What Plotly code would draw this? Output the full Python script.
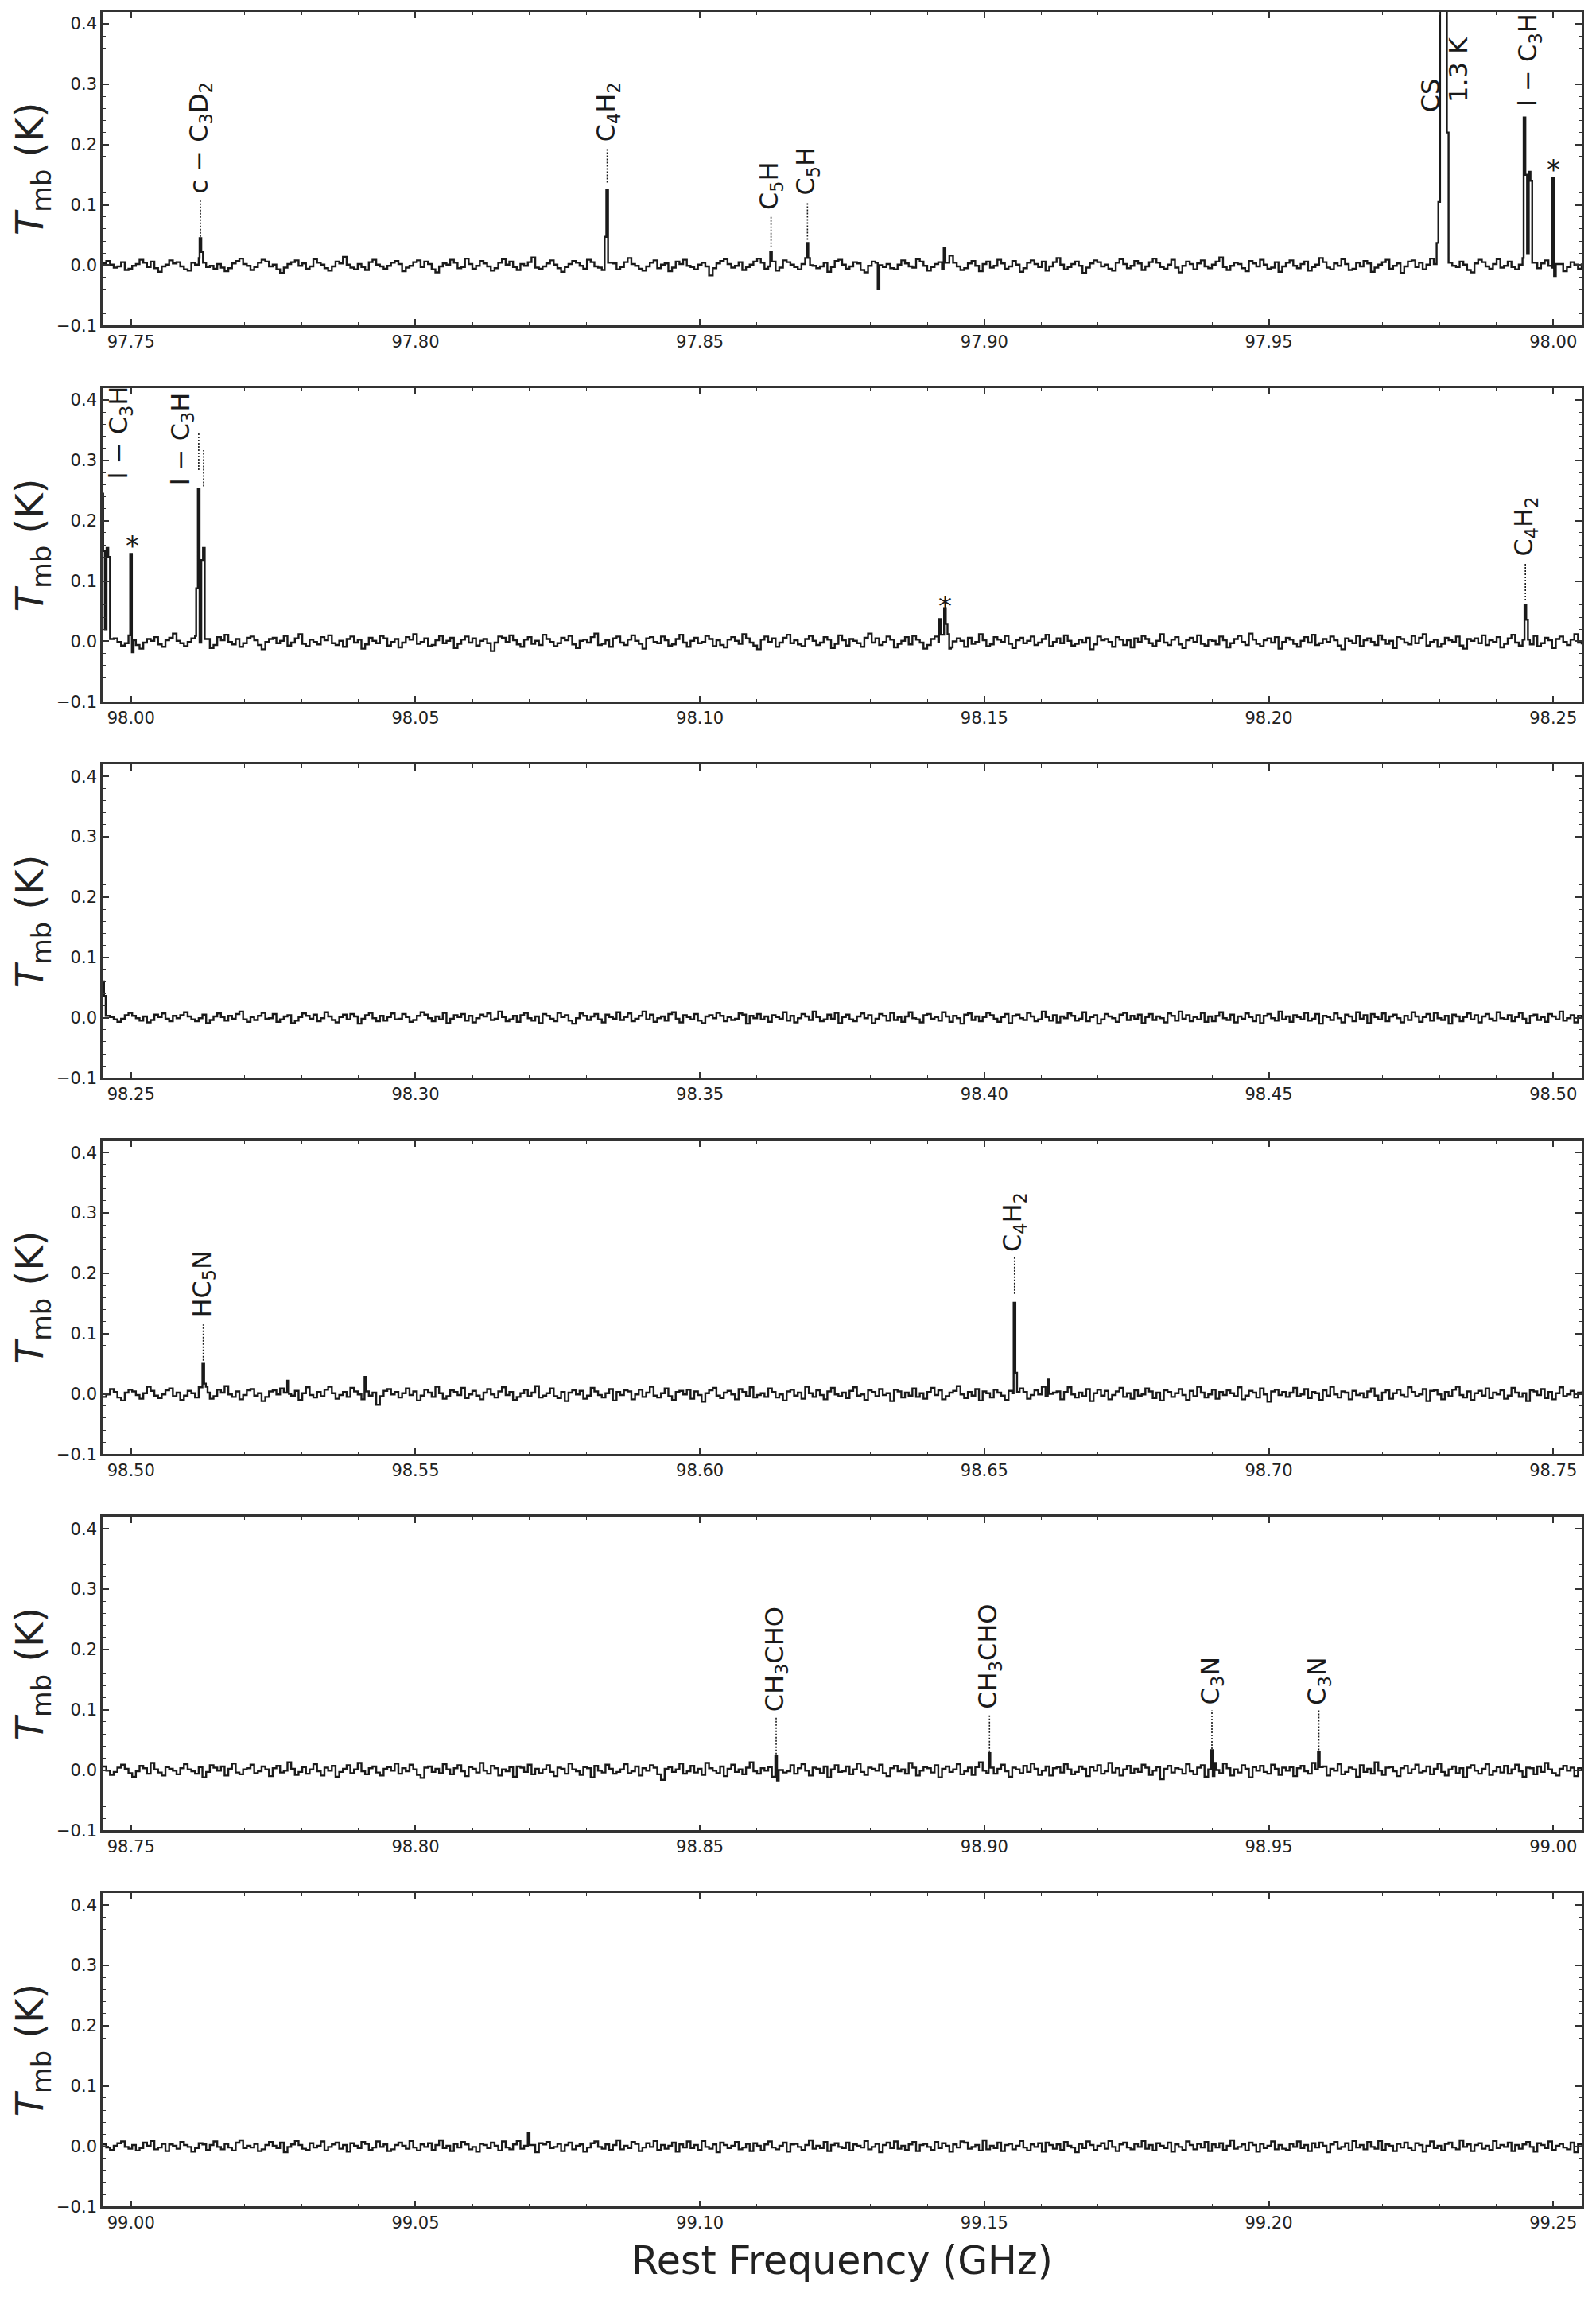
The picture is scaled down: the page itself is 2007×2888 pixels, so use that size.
import plotly.graph_objects as go

# ---------------- data ----------------
panel_xmin = [97.745, 97.995, 98.245, 98.495, 98.745, 98.995]   # GHz, left edge of each panel
panel_span = 0.26
noise_step = 0.00065     # GHz between the baseline samples below
chan = 0.0003            # GHz, channel width of the line profiles

# baseline noise (mK)
noise_p1 = [3,7,1,-4,-2,5,-8,-6,-1,2,9,4,-3,6,-5,-11,-2,1,8,3,
 5,-2,-7,-9,4,1,12,6,-3,-1,-6,2,-4,-10,-5,3,7,11,2,-1,
 -8,-3,4,9,6,-2,1,-7,-13,-4,2,5,8,-1,3,-6,-2,10,4,1,
 -5,-9,-2,6,3,14,1,-4,-7,2,-3,-8,5,9,1,-2,-6,-1,4,7,
 2,-10,-4,-1,5,8,-3,6,2,-7,-12,-2,3,1,9,4,-5,-3,11,2,
 -6,-1,7,3,-2,-9,-5,4,10,1,6,-3,-8,2,-1,5,13,-4,-6,-2,
 3,8,1,-5,-11,-3,2,7,4,-1,-6,9,5,-2,-4,-8,1,6,3,-7,
 -3,5,12,2,-1,-6,-9,-2,4,8,-5,1,3,-10,-4,6,2,9,-1,-3,
 -7,1,4,-2,-17,-5,3,7,10,2,-4,-1,5,-8,-3,1,6,11,4,-6,
 -2,3,-9,-4,8,5,1,-3,-7,2,12,6,-1,-5,-2,4,-11,-3,7,9,
 1,-6,-2,5,3,-8,-12,-1,6,4,9,-3,2,-5,-7,1,8,3,-2,-4,
 10,6,-1,-9,-3,2,5,-6,1,16,4,-2,-8,-5,3,7,-1,-10,2,6,
 -4,-1,9,3,-6,-2,7,1,-11,-5,4,8,2,-3,6,-9,-2,5,12,1,
 -7,-3,2,6,-1,-13,-4,3,8,5,-2,1,-6,-9,4,10,2,-5,-1,7,
 3,-8,-2,5,11,4,-3,-6,1,9,-4,-12,-1,6,2,-7,3,8,-2,-5,
 1,6,13,-3,-8,-1,4,2,-5,-10,7,3,-2,9,1,-6,-4,5,-11,-2,
 4,8,-1,-5,2,6,-9,-3,1,12,5,-4,-7,3,-1,10,2,-8,-6,4,
 -2,7,3,-11,-4,1,5,9,-6,-1,3,-13,-2,6,8,-3,4,-7,1,11,
 2,-5,-9,4,7,-1,-3,6,1,-8,-12,3,9,5,-2,-6,2,10,-4,-1,
 6,-3,-7,1,12,4,-2,-9,-5,3,8,-1,-4,7,2,-10,-3,5,1,-6,
 3]
noise_p2 = [-4,2,8,5,-1,-7,-3,10,3,-6,-12,-2,4,1,7,-5,-9,2,6,13,
 1,-3,-8,-1,5,9,-4,-2,3,-11,-6,7,2,11,-1,-5,4,-9,-3,6,
 8,2,-6,-13,-1,4,6,-3,1,9,-7,-2,5,12,-4,-8,3,-1,-5,7,
 2,10,-3,-6,1,-9,4,8,-2,3,-12,-5,6,1,-3,9,5,-7,-1,4,
 -10,-2,7,3,12,-4,-1,5,-8,-6,2,9,-3,1,6,-11,-4,3,8,-2,
 5,-7,1,4,-3,-16,-2,8,6,-1,10,2,-5,-9,3,7,-4,1,-6,11,
 4,-1,-8,-3,6,2,9,-5,-11,1,3,-2,7,13,-6,-4,2,-9,5,8,
 -2,-6,3,10,1,-4,-12,5,7,-1,-3,8,2,-7,-5,4,11,-2,-9,1,
 6,-3,-1,9,4,-8,2,-6,-10,3,7,1,-4,12,5,-2,-7,-13,3,8,
 -1,5,-9,-2,6,11,-3,2,-5,-8,4,9,1,-6,-2,7,3,-11,-4,10,
 2,-7,4,1,-3,-9,6,13,-2,5,-6,-1,8,3,-10,-4,1,7,-5,9,
 3,-2,-12,-6,4,8,-1,2,10,-7,-3,5,1,-9,6,-4,-1,12,2,-8,
 -5,7,3,-1,9,-4,-11,2,6,-3,1,8,-6,-2,4,11,-8,-1,5,-3,
 10,1,-7,-4,3,-2,6,-13,-5,8,2,4,-1,-9,7,3,-6,2,-10,5,
 -1,9,4,-3,-8,1,12,-2,-6,3,7,-5,-11,2,6,-1,10,-4,-7,3,
 1,-5,8,2,-10,-3,4,9,-1,-6,13,3,-4,-8,2,5,-2,7,-12,-1,
 6,3,-4,-9,1,7,-2,11,-6,-3,4,-1,8,2,-7,-13,5,1,-3,9,
 -8,2,5,-1,-6,10,3,-4,1,-11,7,4,-2,-5,9,-3,6,12,-7,-1,
 3,-9,-4,6,2,-1,8,-7,-12,4,1,5,-3,10,-6,2,-1,7,-10,-4,
 5,11,-2,-7,3,1,-5,9,-8,-3,6,2,-11,4,8,-1,-6,3,12,-2,
 -5]
noise_p3 = [2,6,1,-3,-7,-2,4,8,3,-1,-5,2,-8,-4,5,1,7,-2,-6,3,
 -1,4,9,2,-3,-6,-1,5,-9,-4,2,7,1,-5,3,-2,6,10,-3,-7,
 1,-4,3,8,-2,-1,6,-7,-3,2,4,-9,-5,1,7,3,-2,5,-6,-1,
 9,2,-4,-8,1,5,-3,6,2,-10,-2,4,8,-1,-6,3,-5,1,7,-3,
 -2,6,1,-7,-4,3,9,5,-1,-6,2,-3,8,-9,-2,4,1,6,-5,3,
 -8,-1,5,2,7,-4,-2,10,1,-6,-3,3,-7,4,8,-1,-5,2,-9,6,
 3,-2,-6,8,1,4,-5,-10,-1,7,3,-4,2,6,-3,-8,5,1,-2,9,
 -4,1,7,-6,-2,3,10,-3,5,-7,-1,2,-5,6,9,-2,-8,4,1,-3,
 6,-5,-9,2,4,-1,8,3,-6,1,-4,-2,7,5,-10,3,-1,6,-3,2,
 -7,4,1,-2,9,-5,3,-8,-1,6,2,-4,10,1,-6,-3,5,-2,8,-9,
 1,5,-3,-6,2,7,-1,4,-9,-2,6,3,-5,8,-4,1,-7,2,9,-1,
 -3,-8,4,6,-2,1,-5,9,2,-7,3,-1,-10,5,7,-4,2,-6,1,8,
 4,-2,-7,1,6,-9,3,5,-1,-4,8,2,-6,-3,10,1,-5,4,-8,2,
 -1,7,3,-5,-2,9,-6,1,4,-10,-3,6,2,-1,-7,5,8,-4,3,-2,
 5,-9,1,6,-4,2,-1,-8,7,3,-5,10,-2,4,-6,1,-3,8,-7,2,
 -6,3,9,-1,-4,5,-8,2,-2,7,1,-6,4,-9,3,6,-1,-5,10,-3,
 2,-7,4,1,-3,8,-5,-2,6,-10,3,1,-4,7,-1,-8,5,2,-6,9,
 -2,4,-9,6,1,-3,7,-6,2,5,-1,-8,3,-4,9,2,-7,1,6,-5,
 8,-1,-4,3,-10,5,2,-6,1,7,-3,4,-8,2,6,-2,-5,9,-1,-3,
 4,-6,1,8,-2,-9,3,5,-4,1,-7,6,2,-3,10,-5,-1,4,-8,3,
 -2]
noise_p4 = [-5,-1,8,3,-6,-11,2,7,4,-2,-8,1,12,5,-3,-7,-1,6,9,-4,
 2,-10,-3,5,1,-6,11,3,-2,-8,-4,7,2,13,-1,-5,4,-9,-2,6,
 8,-3,1,-12,-5,4,6,-1,9,2,-7,-3,5,-10,1,11,-2,-6,3,-4,
 7,12,1,-8,-2,3,-5,10,4,-1,-9,6,-3,2,-18,-4,5,8,-1,3,
 -6,1,9,-2,4,-11,-3,7,2,-5,12,1,-8,-4,6,3,-2,10,-7,-1,
 5,-3,-9,2,8,-1,-6,4,11,-2,3,-10,-5,1,7,-4,2,13,-6,-3,
 1,9,-4,-7,3,-12,2,6,-1,5,-8,-3,10,4,-2,-6,1,8,-11,3,
 -2,6,4,-9,-1,7,-5,2,12,-3,-6,1,9,-4,-10,3,5,-1,7,-8,
 4,-2,-13,1,6,10,-3,-7,2,5,-1,-9,8,3,-4,11,-6,-2,1,-5,
 9,3,-6,-1,-11,4,7,-3,2,-8,12,1,-5,6,-2,-9,4,10,-1,-4,
 2,-7,5,11,-3,-1,-10,6,3,-4,8,-2,1,-12,7,4,-6,2,-3,9,
 -5,1,-8,3,10,-2,6,-9,-4,2,5,13,-1,-7,3,-3,8,-11,4,1,
 -6,7,2,-3,-10,5,1,-5,9,3,-8,-2,6,-1,12,-4,-7,2,4,-9,
 3,11,-1,-6,2,-4,8,-12,1,7,-3,5,-9,-2,4,10,-5,1,-8,6,
 -3,-1,9,4,-7,2,-11,6,3,-5,1,8,-2,-10,5,-4,12,2,-6,-1,
 7,-8,3,-2,6,1,-4,11,-9,-3,5,2,-6,9,-1,-13,4,7,-2,3,
 -5,2,10,-4,-1,8,-7,3,1,-10,6,-3,12,-1,-6,4,2,-9,5,-2,
 1,-6,4,9,-3,-11,2,6,-8,1,7,-2,-5,11,3,-4,-1,8,-12,5,
 6,-1,-9,3,-4,7,12,-2,-6,4,-10,1,5,-3,9,-7,2,-1,6,-8,
 -3,10,2,-5,1,-12,6,4,-2,8,-7,3,-9,1,11,-4,-1,5,-6,2,
 4]
noise_p5 = [6,-1,-8,-3,4,9,2,-5,-11,-2,7,3,-6,12,1,-4,-9,5,2,-1,
 -7,3,10,1,-2,-6,5,-12,-3,8,4,-1,6,-9,2,11,-4,-7,1,3,
 9,-5,-2,6,1,-10,3,7,-4,-1,13,2,-8,-3,5,-6,1,10,-2,-9,
 4,-1,7,-11,-3,2,8,-5,1,12,-2,-7,3,6,-4,-9,2,5,-1,11,
 -6,3,-2,9,1,-8,-13,4,6,-3,2,-5,10,1,-7,3,8,-2,-10,5,
 2,-4,12,-1,-6,7,3,-9,1,-2,5,-11,6,4,-3,9,-7,2,-5,1,
 8,-3,-10,4,2,-6,11,1,-2,-8,5,3,-12,7,-1,-4,9,2,-6,-3,
 1,10,-5,-2,6,-9,3,-1,8,4,-7,-16,2,5,-3,1,11,-6,-2,7,
 -4,2,-8,12,3,-1,-5,6,-10,2,9,-3,1,-7,4,13,-2,-6,3,-1,
 5,-11,1,7,-4,-2,8,-6,3,10,-1,-9,4,2,-5,6,-12,1,8,-3,
 -2,6,-7,1,11,-3,-8,4,2,-1,9,-5,-10,3,7,-2,1,-6,12,4,
 -9,-1,5,3,-4,8,-12,2,6,-3,1,10,-7,-2,4,-8,5,13,-1,-5,
 3,-6,2,9,-2,-11,4,1,-5,7,-3,11,2,-8,-1,6,-9,3,5,-4,
 10,1,-7,-3,6,2,-10,5,-1,8,-6,-2,12,-4,3,-9,1,7,-5,2,
 -3,9,4,-8,-1,5,-15,2,7,-4,3,1,-6,10,-2,-7,4,8,-11,1,
 6,-2,-5,11,3,-9,1,-4,8,2,-12,5,-1,7,-3,-6,9,2,-8,4,
 -1,5,-10,3,7,-2,-6,12,1,-4,6,-9,2,-1,10,-7,-3,4,1,-11,
 8,-3,2,-6,13,-1,-8,4,5,-2,-10,3,7,-5,1,9,-4,-2,6,-7,
 2,11,-3,-9,1,6,-5,3,-12,4,8,-1,-6,2,10,-8,-2,5,-4,7,
 -6,1,9,-2,-11,4,3,-7,6,-3,12,1,-5,-9,2,7,-1,4,-10,3,
 -2]
noise_p6 = [3,-2,-6,1,5,8,-1,-4,2,-7,-3,6,1,9,-5,-2,4,-8,3,1,
 -4,7,2,-1,-9,-3,5,3,-6,2,8,-1,-5,4,-2,-7,6,10,-3,1,
 -2,4,-8,-5,2,7,1,-3,6,-10,-1,3,9,2,-4,-6,5,-2,1,8,
 -7,-1,3,6,-4,2,-9,5,1,-3,7,4,-6,-2,8,-1,3,-8,-5,2,
 6,1,-4,9,-2,-7,3,-1,5,-6,2,10,-3,1,-8,4,-2,7,3,-5,
 -1,-9,4,2,-3,6,1,-7,8,-2,-5,3,9,-4,1,-6,2,-10,5,3,
 7,-3,-1,4,-8,2,6,-5,1,3,-9,-2,5,8,-1,-4,3,-6,2,10,
 -5,1,-3,7,4,-8,-2,5,-1,9,-6,2,-4,1,6,-9,3,-2,8,-3,
 2,-6,9,-1,-4,3,-10,6,2,-3,1,7,-5,-2,4,-8,5,1,-7,3,
 8,-2,-5,1,6,-9,3,4,-1,-6,2,10,-4,1,-3,7,-8,2,5,-1,
 -3,6,-7,3,1,-2,9,-5,-1,4,-10,2,6,-3,8,-4,1,-6,3,7,
 -8,2,4,-1,-6,7,-3,5,1,-9,3,-2,8,6,-4,-1,2,-7,10,-5,
 1,-3,6,-8,2,4,-5,1,9,-2,-7,3,-1,5,-9,6,2,-4,3,-6,
 7,1,-2,-10,4,-3,8,2,-6,1,5,-4,9,-1,-8,3,6,-2,-5,4,
 -1,9,-4,2,-7,5,1,-3,6,-9,3,-1,-6,8,2,-5,4,-2,7,-8,
 3,-2,5,-6,1,10,-4,-1,3,-7,6,2,-9,4,-3,1,8,-5,2,-4,
 -6,4,-1,8,-3,2,-8,5,-2,6,1,-10,3,7,-4,-1,5,-7,9,-2,
 2,-5,7,-1,-4,9,-6,3,1,-8,4,-2,6,-3,-7,5,2,-9,1,8,
 -3,1,-7,4,6,-2,-5,10,-1,3,-8,2,5,-4,1,-6,9,-3,2,-1,
 6,-8,2,-4,3,7,-1,-9,5,2,-3,8,-6,1,4,-2,-5,6,-10,3,
 1]
noise_mk = [noise_p1, noise_p2, noise_p3, noise_p4, noise_p5, noise_p6]

# emission / absorption features: first-channel frequency (GHz) and channel values (K)
line_start = [97.76205, 97.83325, 97.86235, 97.86875, 97.88125, 97.89285,
              97.97950, 97.99480, 97.99985, 98.01145, 98.14202, 98.24495,
              98.51255, 98.52745, 98.54105, 98.65515, 98.66115,
              98.86325, 98.90075, 98.93985, 98.95865, 99.06975]
line_profile = [
    [0.045, 0.022, 0.004],
    [0.047, 0.125, 0.004],
    [0.022, 0.006],
    [0.037, 0.012, 0.0],
    [-0.040, 0.0],
    [0.028, 0.004],
    [0.037, 0.105, 1.3, 1.3, 1.3, 1.3, 0.22, 0.004],
    [0.245, 0.150, 0.020, 0.155, 0.140, 0.004],
    [0.145, -0.018, 0.002],
    [0.088, 0.2535, -0.002, 0.135, 0.155, 0.004],
    [0.037, 0.011, 0.011, 0.055, 0.029, 0.012, -0.012, -0.010, 0.0],
    [0.060, 0.036, 0.003],
    [0.050, 0.017, 0.012, 0.002],
    [0.022, 0.0],
    [0.028, 0.004],
    [0.151, 0.035, 0.003],
    [0.024, 0.0],
    [0.024, -0.017, 0.0],
    [0.028, 0.004],
    [0.033, -0.010, 0.012, 0.0],
    [0.030, 0.005],
    [0.023, 0.002],
]

# species labels: panel index, frequency (GHz), label bottom (K), text
label_panel = [0, 0, 0, 0, 0, 0, 0, 1, 1, 1, 3, 3, 4, 4, 4, 4]
label_x = [97.7622, 97.8337, 97.8625, 97.8689, 97.9784, 97.9834, 97.9958,
           97.9982, 98.0089, 98.2451, 98.5127, 98.6553,
           98.8634, 98.9009, 98.9400, 98.9588]
label_y = [0.116, 0.202, 0.089, 0.113, 0.251, 0.267, 0.260,
           0.267, 0.256, 0.138, 0.124, 0.233,
           0.094, 0.099, 0.105, 0.105]
label_text = ["c − C<sub>3</sub>D<sub>2</sub>", "C<sub>4</sub>H<sub>2</sub>",
              "C<sub>5</sub>H", "C<sub>5</sub>H", "CS", "1.3 K",
              "l − C<sub>3</sub>H", "l − C<sub>3</sub>H", "l − C<sub>3</sub>H",
              "C<sub>4</sub>H<sub>2</sub>", "HC<sub>5</sub>N", "C<sub>4</sub>H<sub>2</sub>",
              "CH<sub>3</sub>CHO", "CH<sub>3</sub>CHO", "C<sub>3</sub>N", "C<sub>3</sub>N"]

# dotted marker lines: panel, frequency, from, to (K)
dot_panel = [0, 0, 0, 0, 1, 1, 1, 3, 3, 4, 4, 4, 4]
dot_x = [97.7622, 97.8337, 97.8625, 97.8689, 98.0119, 98.01275, 98.2451,
         98.5127, 98.6553, 98.8634, 98.9009, 98.9400, 98.9588]
dot_y0 = [0.047, 0.137, 0.030, 0.042, 0.284, 0.257, 0.068, 0.055, 0.166, 0.026, 0.030, 0.035, 0.033]
dot_y1 = [0.107, 0.195, 0.082, 0.104, 0.345, 0.317, 0.130, 0.115, 0.227, 0.088, 0.092, 0.099, 0.099]

# asterisks (unidentified): panel, frequency, centre height (K)
star_panel = [0, 1, 1]
star_x = [98.0000, 98.0002, 98.1431]
star_y = [0.169, 0.170, 0.069]

y_range = [-0.1, 0.42]

# ---------------- figure ----------------
W, H = 2007, 2888
left_px, right_px = 129, 1989
panel_h, panel_gap, top0 = 396, 475, 15
ink = "#1a1a1a"
frame = "#333333"
font_fam = "DejaVu Sans"

fig = go.Figure()
layout = {}
annotations = []
shapes = []

spans = [(s, s + len(p) * chan) for s, p in zip(line_start, line_profile)]

for k in range(6):
    xmin = panel_xmin[k]
    xmax = xmin + panel_span
    pts = []
    for i, v in enumerate(noise_mk[k]):
        x = xmin + i * noise_step
        if any(a <= x < b for a, b in spans):
            continue
        pts.append((x, v / 1000.0))
    for s, p in zip(line_start, line_profile):
        if s + len(p) * chan < xmin - 0.002 or s > xmax + 0.002:
            continue
        for j, v in enumerate(p):
            pts.append((s + j * chan, v))
    pts.sort()
    xs = [p[0] for p in pts]
    ys = [p[1] for p in pts]

    xr = "x" if k == 0 else f"x{k+1}"
    yr = "y" if k == 0 else f"y{k+1}"
    fig.add_trace(go.Scatter(x=xs, y=ys, mode="lines", xaxis=xr, yaxis=yr,
                             line=dict(color=ink, width=2.4, shape="hv", simplify=False),
                             showlegend=False, hoverinfo="skip"))

    top = top0 + k * panel_gap
    bot = top + panel_h
    dom_y = [1 - bot / H, 1 - top / H]
    axis_common = dict(showline=True, linecolor=frame, linewidth=2.6, mirror="ticks",
                       ticks="inside", tickcolor=frame, tickwidth=1.6, ticklen=8,
                       showgrid=False, zeroline=False,
                       tickfont=dict(family=font_fam, size=21, color="#222"))
    layout["xaxis" if k == 0 else f"xaxis{k+1}"] = dict(
        domain=[left_px / W, right_px / W], range=[xmin, xmax], anchor=yr,
        tickmode="linear", tick0=0, dtick=0.05, tickformat=".2f",
        minor=dict(tickmode="linear", tick0=0, dtick=0.01, ticks="inside",
                   ticklen=4, tickwidth=1.3, tickcolor=frame),
        **axis_common)
    layout["yaxis" if k == 0 else f"yaxis{k+1}"] = dict(
        domain=dom_y, range=y_range, anchor=xr,
        tickmode="linear", tick0=0, dtick=0.1, tickformat=".1f",
        minor=dict(tickmode="linear", tick0=0, dtick=0.02, ticks="inside",
                   ticklen=4, tickwidth=1.3, tickcolor=frame),
        **axis_common)

    # y axis title
    annotations.append(dict(text="<i>T</i><sub>mb</sub> (K)", xref="paper", yref="paper",
                            x=40 / W, y=1 - (top + bot) / 2 / H, showarrow=False,
                            textangle=-90, xanchor="center", yanchor="middle",
                            font=dict(family=font_fam, size=48, color="#222")))

for pnl, x, y, t in zip(label_panel, label_x, label_y, label_text):
    xr = "x" if pnl == 0 else f"x{pnl+1}"
    yr = "y" if pnl == 0 else f"y{pnl+1}"
    annotations.append(dict(text=t, x=x, y=y, xref=xr, yref=yr, showarrow=False,
                            textangle=-90, xanchor="center", yanchor="bottom",
                            font=dict(family=font_fam, size=32, color=ink)))

for pnl, x, y in zip(star_panel, star_x, star_y):
    xr = "x" if pnl == 0 else f"x{pnl+1}"
    yr = "y" if pnl == 0 else f"y{pnl+1}"
    annotations.append(dict(text="*", x=x, y=y, xref=xr, yref=yr, showarrow=False,
                            xanchor="center", yanchor="middle", yshift=-8,
                            font=dict(family=font_fam, size=34, color=ink)))

for pnl, x, a, b in zip(dot_panel, dot_x, dot_y0, dot_y1):
    xr = "x" if pnl == 0 else f"x{pnl+1}"
    yr = "y" if pnl == 0 else f"y{pnl+1}"
    shapes.append(dict(type="line", xref=xr, yref=yr, x0=x, x1=x, y0=a, y1=b,
                       line=dict(color=ink, width=1.6, dash="2px,2px")))

annotations.append(dict(text="Rest Frequency (GHz)", xref="paper", yref="paper",
                        x=(left_px + right_px) / 2 / W, y=1 - 2854 / H, showarrow=False,
                        xanchor="center", yanchor="middle",
                        font=dict(family=font_fam, size=49, color="#222")))

fig.update_layout(width=W, height=H, margin=dict(l=0, r=0, t=0, b=0),
                  paper_bgcolor="white", plot_bgcolor="white",
                  annotations=annotations, shapes=shapes, **layout)

fig.write_html("out.html")
